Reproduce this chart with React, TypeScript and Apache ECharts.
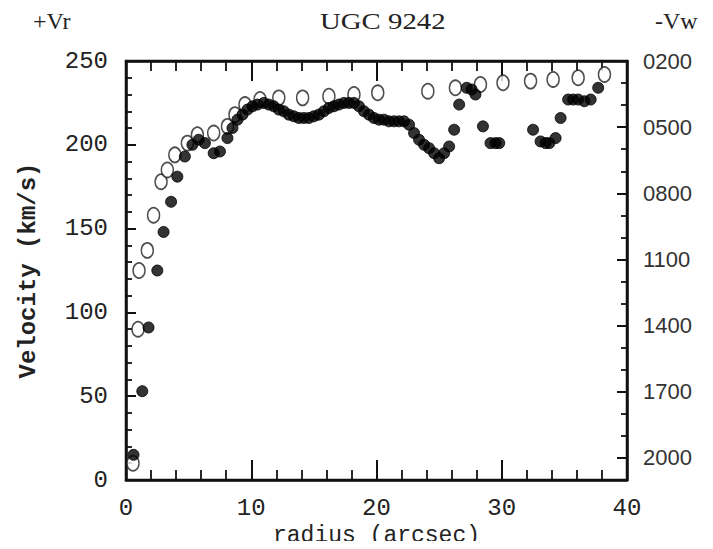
import React, { useEffect, useRef } from "react";
import * as echarts from "echarts";

const radiusOpen = [0.56, 0.96, 1.04, 1.7, 2.2, 2.8, 3.3, 3.9, 4.9, 5.7, 7.0, 8.1, 8.7, 9.5, 10.7, 12.2, 14.1, 16.2, 18.2, 20.1, 24.1, 26.3, 28.3, 30.1, 32.3, 34.1, 36.1, 38.2];
const velocityOpen = [10, 90, 125, 137, 158, 178, 185, 194, 201, 206, 207, 211, 218, 224, 227, 228, 228, 229, 230, 231, 232, 234, 236, 237, 238, 239, 240, 242];

const radiusFilled = [0.6, 1.3, 1.8, 2.5, 3.0, 3.6, 4.1, 4.7, 5.3, 5.8, 6.3, 7.0, 7.5, 8.1, 8.5, 8.9, 9.3, 9.7, 10.1, 10.5, 11.0, 11.4, 11.8, 12.2, 12.6, 13.0, 13.4, 13.8, 14.2, 14.6, 15.0, 15.4, 15.8, 16.2, 16.6, 17.0, 17.4, 17.8, 18.2, 18.6, 19.0, 19.4, 19.8, 20.2, 20.6, 21.0, 21.4, 21.8, 22.2, 22.6, 23.0, 23.4, 23.8, 24.2, 24.6, 25.0, 25.4, 25.8, 26.2, 26.6, 27.2, 27.6, 27.9, 28.5, 29.1, 29.5, 29.8, 32.5, 33.1, 33.5, 33.8, 34.3, 34.7, 35.3, 35.7, 36.1, 36.6, 37.1, 37.7];
const velocityFilled = [15, 53, 91, 125, 148, 166, 181, 193, 200, 203, 201, 195, 196, 204, 210, 215, 218, 221, 223, 224, 225, 224, 223, 221, 220, 218, 217, 216, 216, 216, 217, 218, 220, 222, 223, 224, 225, 225, 225, 223, 220, 218, 216, 215, 215, 214, 214, 214, 214, 212, 207, 203, 200, 198, 195, 192, 195, 199, 209, 224, 234, 233, 230, 211, 201, 201, 201, 209, 202, 201, 201, 204, 216, 227, 227, 227, 226, 227, 234];

const leftTicks = [0, 50, 100, 150, 200, 250];
const rightTicks = [200, 500, 800, 1100, 1400, 1700, 2000];
const xTicks = [0, 10, 20, 30, 40];

const titleText = "UGC 9242";
const leftTag = "+Vr";
const rightTag = "-Vw";

const lineCol = "#111";
const mkLine = () => ({ show: true, onZero: false, lineStyle: { color: lineCol, width: 2.5 } });
const mkTick = (len: number) => ({ show: true, inside: true, length: len, lineStyle: { color: lineCol, width: 2 } });
const mkMinor = (n: number, len: number) => ({ show: true, splitNumber: n, length: len, lineStyle: { color: lineCol, width: 1.8 } });

export default function App() {
  const ref = useRef<HTMLDivElement>(null);
  useEffect(() => {
    if (!ref.current) return;
    const chart = echarts.init(ref.current, null, { renderer: "svg" });
    const mono = "Liberation Mono";
    const serif = "Liberation Serif";
    chart.setOption({
      animation: false,
      backgroundColor: "#fff",
      grid: {
        left: 126, right: 86, top: 61, bottom: 69, outerBoundsMode: "none", containLabel: false,
        show: true, borderColor: lineCol, borderWidth: 2.5, backgroundColor: "transparent",
      },
      graphic: [
        { type: "text", x: 320, y: 9, scaleX: 1.2, style: { text: titleText, font: `24px "${serif}"`, fill: "#222" } },
        { type: "text", x: 33, y: 9, style: { text: leftTag, font: `24px "${serif}"`, fill: "#222" } },
        { type: "text", x: 655, y: 9, style: { text: rightTag, font: `24px "${serif}"`, fill: "#222" } },
      ],
      xAxis: [
        {
          type: "value", gridIndex: 0, min: xTicks[0], max: xTicks[xTicks.length - 1], interval: 10, position: "bottom",
          axisLine: mkLine(), axisTick: mkTick(20), minorTick: mkMinor(5, 10),
          splitLine: { show: false },
          axisLabel: { fontFamily: mono, fontSize: 24, color: "#222", margin: 16 },
          name: "radius (arcsec)", nameLocation: "middle", nameGap: 40,
          nameTextStyle: { fontFamily: mono, fontSize: 23, color: "#222" },
        },
        {
          type: "value", gridIndex: 0, min: xTicks[0], max: xTicks[xTicks.length - 1], interval: 10, position: "top",
          axisLine: mkLine(), axisTick: mkTick(20), minorTick: mkMinor(5, 10),
          splitLine: { show: false },
          axisLabel: { show: false },
        },
      ],
      yAxis: [
        {
          type: "value", gridIndex: 0, min: leftTicks[0], max: leftTicks[leftTicks.length - 1], interval: 50, position: "left",
          axisLine: mkLine(), axisTick: mkTick(10), minorTick: mkMinor(5, 6),
          splitLine: { show: false },
          axisLabel: { fontFamily: mono, fontSize: 24, color: "#222", margin: 18 },
          name: "Velocity (km/s)", nameLocation: "middle", nameGap: 86,
          nameTextStyle: { fontFamily: mono, fontSize: 24, color: "#222", fontWeight: "bold" },
        },
        {
          type: "value", gridIndex: 0, min: rightTicks[0], max: 2100, interval: 300, position: "right", inverse: true,
          axisLine: mkLine(), axisTick: mkTick(10), minorTick: mkMinor(3, 6),
          splitLine: { show: false },
          axisLabel: {
            fontFamily: "Liberation Sans", fontSize: 22, color: "#333", margin: 16, showMaxLabel: false,
            formatter: (v: number) => (rightTicks.includes(v) ? String(v).padStart(4, "0") : ""),
          },
        },
      ],
      series: [
        {
          type: "scatter", xAxisIndex: 0, yAxisIndex: 0, symbol: "circle", symbolSize: [12, 15],
          itemStyle: { color: "#fff", borderColor: "#222", borderWidth: 1.6 },
          data: radiusOpen.map((r, i) => [r, velocityOpen[i]]),
        },
        {
          type: "scatter", xAxisIndex: 0, yAxisIndex: 0, symbol: "circle", symbolSize: 11,
          itemStyle: { color: "#000", borderColor: "#000", borderWidth: 1 },
          data: radiusFilled.map((r, i) => [r, velocityFilled[i]]),
        },
      ],
    });
    return () => chart.dispose();
  }, []);
  return <div ref={ref} style={{ width: 713, height: 549, margin: -8 }} />;
}
